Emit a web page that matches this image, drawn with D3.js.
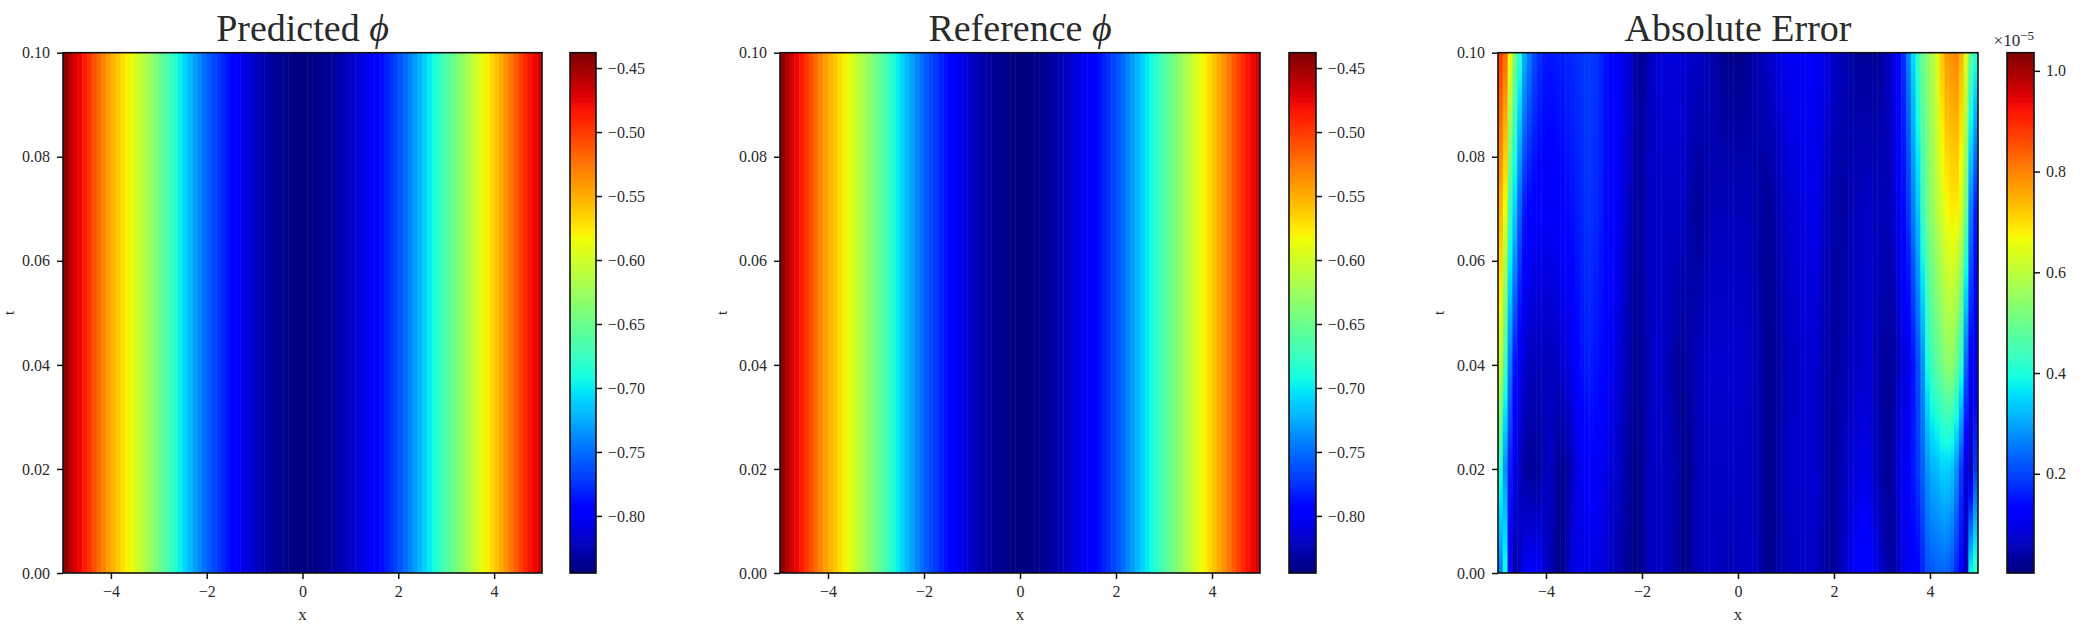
<!DOCTYPE html>
<html>
<head>
    <meta charset="utf-8">
    <title></title>
    <script src="https://d3js.org/d3.v7.min.js"></script>
    <style>
        body { margin: 0; background: #fff; }
        text { font-family: "Liberation Serif", serif; fill: #2a2a2a; }
    </style>
</head>
<body>
    <svg id="chart"></svg>
    <script>
        // values, one entry per grid column from x=-5 to x=5
        var phiColumn = [
            -.4441,-.4563,-.4685,-.4766,-.4860,-.4970,-.5092,-.5214,-.5323,-.5429,
            -.5518,-.5612,-.5701,-.5795,-.5893,-.5994,-.6096,-.6202,-.6303,-.6405,
            -.6519,-.6629,-.6738,-.6848,-.6982,-.7092,-.7194,-.7295,-.7397,-.7499,
            -.7580,-.7653,-.7722,-.7795,-.7865,-.7938,-.7999,-.8056,-.8109,-.8161,
            -.8210,-.8255,-.8296,-.8332,-.8361,-.8385,-.8405,-.8426,-.8438,-.8446,
            -.8446,-.8438,-.8426,-.8405,-.8385,-.8361,-.8332,-.8300,-.8263,-.8222,
            -.8178,-.8133,-.8088,-.8043,-.7999,-.7950,-.7889,-.7816,-.7747,-.7673,
            -.7592,-.7503,-.7409,-.7308,-.7206,-.7104,-.7003,-.6901,-.6799,-.6698,
            -.6596,-.6494,-.6393,-.6291,-.6189,-.6088,-.5986,-.5884,-.5783,-.5681,
            -.5579,-.5478,-.5368,-.5254,-.5144,-.5031,-.4917,-.4827,-.4766,-.4685
        ];

        // absolute error in units of 1e-5, same columns, one list per t
        var errT010 = [
            .881,.829,.674,.520,.416,.313,.261,.210,.179,.158,
            .153,.153,.158,.158,.168,.173,.179,.184,.189,.189,
            .184,.168,.148,.132,.117,.106,.096,.075,.044,.024,
            .029,.055,.075,.080,.086,.086,.086,.086,.080,.075,
            .070,.065,.060,.055,.044,.034,.024,.015,.013,.013,
            .015,.018,.029,.039,.049,.060,.070,.080,.091,.101,
            .106,.111,.111,.111,.111,.111,.106,.106,.091,.075,
            .065,.055,.049,.039,.029,.024,.024,.024,.024,.029,
            .044,.065,.096,.127,.179,.261,.354,.437,.499,.540,
            .581,.643,.726,.778,.788,.798,.747,.643,.489,.416
        ];
        var errT007 = [
            .747,.664,.437,.344,.230,.158,.132,.122,.117,.117,
            .117,.117,.122,.127,.137,.148,.158,.168,.179,.179,
            .173,.158,.137,.127,.117,.096,.080,.055,.034,.034,
            .044,.065,.065,.065,.065,.065,.065,.065,.065,.049,
            .034,.024,.029,.039,.049,.055,.055,.055,.055,.055,
            .055,.055,.049,.044,.034,.026,.024,.034,.049,.065,
            .075,.080,.086,.091,.096,.096,.096,.075,.060,.044,
            .034,.034,.039,.049,.055,.060,.065,.065,.060,.055,
            .055,.055,.075,.106,.137,.189,.261,.334,.437,.509,
            .550,.592,.633,.664,.685,.685,.633,.499,.261,.158
        ];
        var errT004 = [
            .623,.437,.261,.148,.106,.075,.060,.055,.055,.055,
            .055,.060,.065,.075,.086,.106,.127,.148,.158,.158,
            .148,.137,.127,.106,.096,.075,.055,.039,.024,.024,
            .039,.055,.070,.075,.065,.055,.039,.029,.024,.034,
            .044,.055,.065,.070,.075,.075,.075,.075,.075,.075,
            .075,.070,.065,.055,.044,.029,.015,.024,.034,.049,
            .060,.065,.070,.075,.075,.075,.070,.055,.044,.034,
            .034,.039,.049,.060,.065,.070,.075,.075,.055,.039,
            .029,.024,.034,.065,.086,.096,.148,.210,.282,.396,
            .447,.478,.509,.540,.540,.499,.416,.230,.117,.106
        ];
        var errT002 = [
            .416,.282,.158,.096,.065,.034,.029,.024,.029,.049,
            .065,.049,.029,.018,.034,.065,.091,.106,.122,.127,
            .122,.106,.096,.080,.075,.060,.044,.029,.015,.015,
            .034,.055,.065,.065,.060,.055,.049,.034,.015,.018,
            .034,.049,.060,.065,.065,.065,.065,.065,.065,.065,
            .065,.065,.060,.055,.044,.024,.015,.024,.039,.055,
            .065,.070,.070,.075,.075,.075,.070,.055,.039,.024,
            .034,.049,.065,.075,.086,.096,.096,.086,.065,.044,
            .029,.024,.044,.086,.106,.117,.158,.189,.230,.282,
            .313,.323,.344,.344,.334,.282,.189,.086,.055,.189
        ];
        var errT000 = [
            .261,.396,.117,.034,.065,.106,.111,.117,.117,.086,
            .055,.034,.018,.015,.055,.091,.096,.096,.096,.091,
            .086,.086,.080,.065,.055,.039,.029,.018,.013,.013,
            .034,.055,.065,.065,.060,.055,.044,.029,.015,.015,
            .034,.049,.060,.065,.065,.060,.055,.055,.055,.055,
            .060,.065,.065,.065,.044,.024,.015,.024,.039,.049,
            .055,.060,.065,.065,.065,.065,.060,.044,.034,.024,
            .034,.055,.075,.096,.117,.127,.132,.127,.106,.075,
            .055,.034,.034,.065,.096,.106,.117,.127,.168,.210,
            .220,.230,.230,.230,.210,.168,.127,.055,.385,.437
        ];

        var xGrid = d3.range(100).map(function(i) { return -5 + i * 0.1; });
        var xTicks = [-4, -2, 0, 2, 4];
        var tTicks = [0, 0.02, 0.04, 0.06, 0.08, 0.1];
        var phiTicks = [-0.8, -0.75, -0.7, -0.65, -0.6, -0.55, -0.5, -0.45];
        var errTicks = [0.2, 0.4, 0.6, 0.8, 1.0];
        var phiRange = [-0.8446, -0.438];
        var errRange = [0.003, 1.036];

        var width = 2090, height = 633;
        var plotTop = 52.7, plotBottom = 573;

        var panels = [
            { title: "Predicted ", phi: true, left: 63, right: 542, cbLeft: 570, cbRight: 596, tLabel: 9,
              rows: [{ t: 0.1, v: phiColumn }], range: phiRange, ticks: phiTicks, fmt: d3.format(".2f") },
            { title: "Reference ", phi: true, left: 780, right: 1260, cbLeft: 1289, cbRight: 1316, tLabel: 722,
              rows: [{ t: 0.1, v: phiColumn }], range: phiRange, ticks: phiTicks, fmt: d3.format(".2f") },
            { title: "Absolute Error", phi: false, left: 1498, right: 1978, cbLeft: 2007, cbRight: 2034, tLabel: 1439,
              rows: [{ t: 0.1, v: errT010 }, { t: 0.07, v: errT007 }, { t: 0.04, v: errT004 },
                     { t: 0.02, v: errT002 }, { t: 0, v: errT000 }],
              range: errRange, ticks: errTicks, fmt: d3.format(".1f"), offset: true }
        ];

        // matplotlib jet
        var jetR = d3.scaleLinear().domain([0, 0.35, 0.66, 0.89, 1]).range([0, 0, 255, 255, 128]).clamp(true);
        var jetG = d3.scaleLinear().domain([0, 0.125, 0.375, 0.64, 0.91, 1]).range([0, 0, 255, 255, 0, 0]).clamp(true);
        var jetB = d3.scaleLinear().domain([0, 0.11, 0.34, 0.65, 1]).range([128, 255, 255, 0, 0]).clamp(true);
        function jet(n) {
            return d3.rgb(jetR(n), jetG(n), jetB(n)).formatRgb();
        }

        var svg = d3.select("#chart").attr("width", width).attr("height", height);
        var defs = svg.append("defs");
        var tOffset = d3.scaleLinear().domain([0.1, 0]).range([0, 1]);
        var y = d3.scaleLinear().domain([0, 0.1]).range([plotBottom, plotTop]);
        // stop offsets have to go upwards, so t runs from 0.1 down to 0
        var shadeT = d3.range(40, -1, -1).map(function(i) { return i * 0.0025; });

        panels.forEach(function(p, pi) {
            var x = d3.scaleLinear().domain([-5, 5]).range([p.left, p.right]);
            var norm = d3.scaleLinear().domain(p.range).range([0, 1]);
            var g = svg.append("g");

            // one vertical gradient per grid column, shaded in value space so it stays on the colormap
            var grads = defs.selectAll(".grad" + pi)
                .data(xGrid)
                .enter()
                .append("linearGradient")
                .attr("class", "grad" + pi)
                .attr("id", function(d, i) { return "g" + pi + "_" + i; })
                .attr("x1", 0).attr("y1", 0).attr("x2", 0).attr("y2", 1);
            grads.each(function(d, i) {
                var shade = p.rows.length > 1
                    ? d3.scaleLinear().domain(p.rows.map(function(r) { return r.t; }))
                        .range(p.rows.map(function(r) { return r.v[i]; }))
                    : function() { return p.rows[0].v[i]; };
                d3.select(this).selectAll("stop")
                    .data(shadeT)
                    .enter()
                    .append("stop")
                    .attr("offset", function(t) { return tOffset(t); })
                    .attr("stop-color", function(t) { return jet(norm(shade(t))); });
            });

            g.selectAll(".cell")
                .data(xGrid)
                .enter()
                .append("rect")
                .attr("class", "cell")
                .attr("x", function(d) { return x(d); })
                .attr("y", plotTop)
                .attr("width", function(d) { return Math.min(x(d + 0.1) + 0.5, p.right) - x(d); })
                .attr("height", plotBottom - plotTop)
                .attr("fill", function(d, i) { return "url(#g" + pi + "_" + i + ")"; });

            g.append("rect")
                .attr("x", p.left).attr("y", plotTop)
                .attr("width", p.right - p.left).attr("height", plotBottom - plotTop)
                .attr("fill", "none").attr("stroke", "#111").attr("stroke-width", 1.6);

            var xAxis = g.append("g")
                .attr("transform", "translate(0," + plotBottom + ")")
                .call(d3.axisBottom(x).tickValues(xTicks).tickSize(6).tickPadding(7).tickFormat(d3.format("d")));
            var yAxis = g.append("g")
                .attr("transform", "translate(" + p.left + ",0)")
                .call(d3.axisLeft(y).tickValues(tTicks).tickSize(6).tickPadding(7).tickFormat(d3.format(".2f")));

            // colorbar
            var cb = d3.scaleLinear().domain(p.range).range([plotBottom, plotTop]);
            var steps = d3.range(256);
            var stepY = d3.scaleBand().domain(steps).range([plotBottom, plotTop]);
            g.selectAll(".cb")
                .data(steps)
                .enter()
                .append("rect")
                .attr("class", "cb")
                .attr("x", p.cbLeft)
                .attr("y", function(d) { return stepY(d) - 0.3; })
                .attr("width", p.cbRight - p.cbLeft)
                .attr("height", stepY.bandwidth() + 0.6)
                .attr("fill", function(d) { return jet(d / 255); });
            g.append("rect")
                .attr("x", p.cbLeft).attr("y", plotTop)
                .attr("width", p.cbRight - p.cbLeft).attr("height", plotBottom - plotTop)
                .attr("fill", "none").attr("stroke", "#111").attr("stroke-width", 1.6);
            var cbAxis = g.append("g")
                .attr("transform", "translate(" + p.cbRight + ",0)")
                .call(d3.axisRight(cb).tickValues(p.ticks).tickSize(6).tickPadding(6).tickFormat(p.fmt));

            [xAxis, yAxis, cbAxis].forEach(function(a) {
                a.select(".domain").remove();
                a.selectAll("text").style("font-size", "16px").style("font-family", "Liberation Serif");
                a.selectAll("line").attr("stroke", "#111").attr("stroke-width", 1.5);
            });

            var mid = (p.left + p.right) / 2;
            var title = g.append("text")
                .attr("x", mid).attr("y", 41)
                .attr("text-anchor", "middle")
                .style("font-size", "38px")
                .text(p.title);
            if (p.phi) {
                title.append("tspan").attr("font-style", "italic").text("\u03D5");
            }

            g.append("text")
                .attr("x", mid).attr("y", 620)
                .attr("text-anchor", "middle")
                .style("font-size", "17px")
                .text("x");
            g.append("text")
                .attr("transform", "translate(" + p.tLabel + "," + ((plotTop + plotBottom) / 2) + ") rotate(-90)")
                .attr("text-anchor", "middle")
                .attr("dy", "0.32em")
                .style("font-size", "15px")
                .text("t");

            if (p.offset) {
                var off = g.append("text")
                    .attr("x", p.cbRight).attr("y", 46)
                    .attr("text-anchor", "end")
                    .style("font-size", "17px")
                    .text("\u00D710");
                off.append("tspan").attr("dy", -6).style("font-size", "13px").text("\u22125");
            }
        });
    </script>
</body>
</html>
